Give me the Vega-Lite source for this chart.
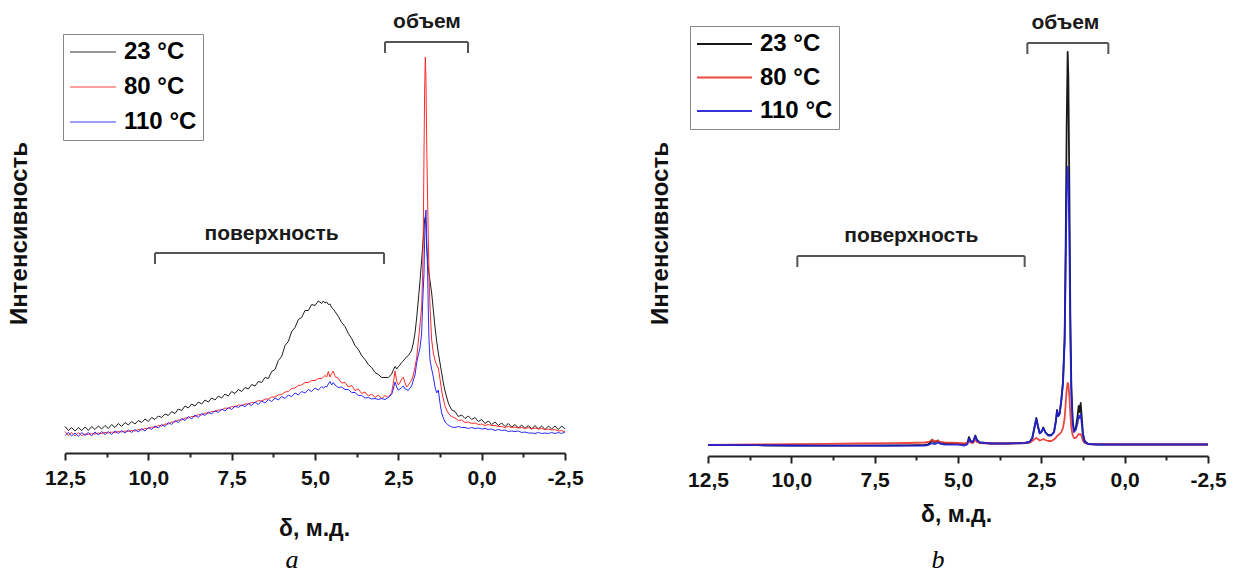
{
  "$schema": "https://vega.github.io/schema/vega-lite/v6.json",
  "background": "white",
  "padding": {"left": 7, "top": 8, "right": 0, "bottom": 0},
  "bounds": "flush",
  "spacing": 143,
  "config": {
    "view": {"stroke": null},
    "font": "Liberation Sans",
    "axis": {"labelFont": "Liberation Sans", "titleFont": "Liberation Sans"},
    "legend": {"labelFont": "Liberation Sans"}
  },
  "datasets": {
    "spectraA": [
      {"ppm": 12.5, "t23": 26.5, "t80": 21.5, "t110": 17.5},
      {"ppm": 12.4, "t23": 22.5, "t80": 17.5, "t110": 20.5},
      {"ppm": 12.3, "t23": 25.5, "t80": 20.5, "t110": 17},
      {"ppm": 12.2, "t23": 22, "t80": 17, "t110": 20},
      {"ppm": 12.1, "t23": 25.5, "t80": 20.5, "t110": 16.5},
      {"ppm": 12.0, "t23": 22.5, "t80": 17.5, "t110": 20.5},
      {"ppm": 11.9, "t23": 26, "t80": 19, "t110": 17.5},
      {"ppm": 11.8, "t23": 22.5, "t80": 18.5, "t110": 20.5},
      {"ppm": 11.7, "t23": 26.5, "t80": 19.5, "t110": 17},
      {"ppm": 11.6, "t23": 23.5, "t80": 19, "t110": 21},
      {"ppm": 11.5, "t23": 27, "t80": 20, "t110": 18},
      {"ppm": 11.4, "t23": 24, "t80": 19.5, "t110": 21.5},
      {"ppm": 11.3, "t23": 27.5, "t80": 20.5, "t110": 18.5},
      {"ppm": 11.2, "t23": 24.5, "t80": 20, "t110": 21.5},
      {"ppm": 11.1, "t23": 28.5, "t80": 21, "t110": 18.5},
      {"ppm": 11.0, "t23": 25.5, "t80": 20.5, "t110": 22},
      {"ppm": 10.9, "t23": 29.5, "t80": 21.5, "t110": 19.5},
      {"ppm": 10.8, "t23": 26.5, "t80": 21, "t110": 22.5},
      {"ppm": 10.7, "t23": 30.5, "t80": 22, "t110": 20},
      {"ppm": 10.6, "t23": 28, "t80": 21.5, "t110": 23},
      {"ppm": 10.5, "t23": 31.5, "t80": 22.5, "t110": 20.5},
      {"ppm": 10.4, "t23": 29, "t80": 22, "t110": 23.5},
      {"ppm": 10.3, "t23": 32.5, "t80": 23.5, "t110": 21},
      {"ppm": 10.2, "t23": 30.5, "t80": 23, "t110": 24.5},
      {"ppm": 10.1, "t23": 34, "t80": 24.5, "t110": 22},
      {"ppm": 10.0, "t23": 31.5, "t80": 24.5, "t110": 25.5},
      {"ppm": 9.9, "t23": 35.5, "t80": 26, "t110": 23.5},
      {"ppm": 9.8, "t23": 33.5, "t80": 25.5, "t110": 27},
      {"ppm": 9.7, "t23": 37, "t80": 27.5, "t110": 25},
      {"ppm": 9.6, "t23": 35.5, "t80": 27, "t110": 28.5},
      {"ppm": 9.5, "t23": 39, "t80": 29, "t110": 26.5},
      {"ppm": 9.4, "t23": 37.5, "t80": 29, "t110": 30.5},
      {"ppm": 9.3, "t23": 41.5, "t80": 31, "t110": 28.5},
      {"ppm": 9.2, "t23": 39.5, "t80": 31, "t110": 32.5},
      {"ppm": 9.1, "t23": 44, "t80": 33, "t110": 30.5},
      {"ppm": 9.0, "t23": 42.5, "t80": 33, "t110": 34.5},
      {"ppm": 8.9, "t23": 47, "t80": 35, "t110": 32.5},
      {"ppm": 8.8, "t23": 45, "t80": 35, "t110": 36.5},
      {"ppm": 8.7, "t23": 49, "t80": 36.5, "t110": 34},
      {"ppm": 8.6, "t23": 47, "t80": 36.5, "t110": 38},
      {"ppm": 8.5, "t23": 51, "t80": 38.5, "t110": 35.5},
      {"ppm": 8.4, "t23": 49, "t80": 38, "t110": 39.5},
      {"ppm": 8.3, "t23": 53, "t80": 40, "t110": 37.5},
      {"ppm": 8.2, "t23": 51, "t80": 39.5, "t110": 41},
      {"ppm": 8.1, "t23": 55, "t80": 41.5, "t110": 39},
      {"ppm": 8.0, "t23": 53, "t80": 41.5, "t110": 42.5},
      {"ppm": 7.9, "t23": 57, "t80": 43, "t110": 40.5},
      {"ppm": 7.8, "t23": 55, "t80": 43, "t110": 44},
      {"ppm": 7.7, "t23": 59, "t80": 45, "t110": 42},
      {"ppm": 7.6, "t23": 57, "t80": 44.5, "t110": 45.5},
      {"ppm": 7.5, "t23": 61.5, "t80": 46.5, "t110": 43.5},
      {"ppm": 7.4, "t23": 59.5, "t80": 46, "t110": 47},
      {"ppm": 7.3, "t23": 63.5, "t80": 48, "t110": 45.5},
      {"ppm": 7.2, "t23": 61.5, "t80": 47.5, "t110": 48},
      {"ppm": 7.1, "t23": 65.5, "t80": 49, "t110": 46.5},
      {"ppm": 7.0, "t23": 64, "t80": 49, "t110": 49.5},
      {"ppm": 6.9, "t23": 68.5, "t80": 50.5, "t110": 47.5},
      {"ppm": 6.8, "t23": 67, "t80": 50.5, "t110": 51},
      {"ppm": 6.7, "t23": 71.5, "t80": 52.5, "t110": 48.5},
      {"ppm": 6.6, "t23": 70.5, "t80": 52, "t110": 52},
      {"ppm": 6.5, "t23": 75.5, "t80": 54, "t110": 50},
      {"ppm": 6.4, "t23": 74.5, "t80": 54, "t110": 53.5},
      {"ppm": 6.3, "t23": 81.5, "t80": 56, "t110": 51.5},
      {"ppm": 6.2, "t23": 83.5, "t80": 56, "t110": 55},
      {"ppm": 6.1, "t23": 92.5, "t80": 58, "t110": 53},
      {"ppm": 6.0, "t23": 96.5, "t80": 58.5, "t110": 56.5},
      {"ppm": 5.9, "t23": 107.5, "t80": 61, "t110": 54.5},
      {"ppm": 5.8, "t23": 111.5, "t80": 61.5, "t110": 58},
      {"ppm": 5.7, "t23": 121.5, "t80": 64.5, "t110": 56.5},
      {"ppm": 5.6, "t23": 125.5, "t80": 65, "t110": 60},
      {"ppm": 5.5, "t23": 133.5, "t80": 67.5, "t110": 58},
      {"ppm": 5.4, "t23": 135.5, "t80": 68, "t110": 61.5},
      {"ppm": 5.3, "t23": 142.5, "t80": 70.5, "t110": 60},
      {"ppm": 5.2, "t23": 142.5, "t80": 70.5, "t110": 63.5},
      {"ppm": 5.1, "t23": 148.5, "t80": 72.5, "t110": 61.5},
      {"ppm": 5.0, "t23": 147.5, "t80": 72.5, "t110": 65},
      {"ppm": 4.9, "t23": 152, "t80": 74.5, "t110": 63},
      {"ppm": 4.8, "t23": 149.5, "t80": 74.5, "t110": 66.5},
      {"ppm": 4.75, "t23": 152, "t80": 76, "t110": 65},
      {"ppm": 4.7, "t23": 150, "t80": 77.5, "t110": 66.5},
      {"ppm": 4.65, "t23": 151, "t80": 76, "t110": 66},
      {"ppm": 4.6, "t23": 148.5, "t80": 81.5, "t110": 69},
      {"ppm": 4.55, "t23": 149, "t80": 76, "t110": 71.5},
      {"ppm": 4.5, "t23": 145.5, "t80": 79.5, "t110": 68},
      {"ppm": 4.45, "t23": 144, "t80": 82, "t110": 70.5},
      {"ppm": 4.4, "t23": 141.5, "t80": 76.5, "t110": 68},
      {"ppm": 4.3, "t23": 136.5, "t80": 74.5, "t110": 65.5},
      {"ppm": 4.2, "t23": 130.5, "t80": 70, "t110": 66},
      {"ppm": 4.1, "t23": 126.5, "t80": 70.5, "t110": 63.5},
      {"ppm": 4.0, "t23": 119.5, "t80": 66, "t110": 63.5},
      {"ppm": 3.9, "t23": 114.5, "t80": 67.5, "t110": 60.5},
      {"ppm": 3.8, "t23": 107.5, "t80": 62.5, "t110": 60.5},
      {"ppm": 3.7, "t23": 103.5, "t80": 64, "t110": 57.5},
      {"ppm": 3.6, "t23": 97.5, "t80": 59.5, "t110": 57.5},
      {"ppm": 3.5, "t23": 93.5, "t80": 61, "t110": 55},
      {"ppm": 3.4, "t23": 88.5, "t80": 57, "t110": 55.5},
      {"ppm": 3.3, "t23": 85.5, "t80": 59, "t110": 54},
      {"ppm": 3.2, "t23": 80.5, "t80": 55.5, "t110": 54.5},
      {"ppm": 3.1, "t23": 78.5, "t80": 58, "t110": 53.5},
      {"ppm": 3.0, "t23": 75.5, "t80": 54.5, "t110": 54.5},
      {"ppm": 2.9, "t23": 75.5, "t80": 57.5, "t110": 53.5},
      {"ppm": 2.8, "t23": 75.5, "t80": 55.5, "t110": 55.5},
      {"ppm": 2.7, "t23": 79, "t80": 60.5, "t110": 58.5},
      {"ppm": 2.65, "t23": 83, "t80": 70, "t110": 64},
      {"ppm": 2.6, "t23": 86.5, "t80": 82, "t110": 71},
      {"ppm": 2.55, "t23": 84, "t80": 72, "t110": 66},
      {"ppm": 2.5, "t23": 86.5, "t80": 68, "t110": 63},
      {"ppm": 2.45, "t23": 88, "t80": 70.5, "t110": 64},
      {"ppm": 2.4, "t23": 90.5, "t80": 74, "t110": 65.5},
      {"ppm": 2.35, "t23": 92, "t80": 76, "t110": 67},
      {"ppm": 2.3, "t23": 94.5, "t80": 70, "t110": 64},
      {"ppm": 2.25, "t23": 96, "t80": 66, "t110": 63.5},
      {"ppm": 2.2, "t23": 97.5, "t80": 68, "t110": 62.5},
      {"ppm": 2.15, "t23": 100, "t80": 70.5, "t110": 65},
      {"ppm": 2.1, "t23": 103, "t80": 73, "t110": 67},
      {"ppm": 2.05, "t23": 110, "t80": 78, "t110": 73},
      {"ppm": 2.0, "t23": 120, "t80": 86, "t110": 78},
      {"ppm": 1.95, "t23": 135, "t80": 95, "t110": 90},
      {"ppm": 1.9, "t23": 153, "t80": 112, "t110": 98},
      {"ppm": 1.85, "t23": 172, "t80": 128, "t110": 105},
      {"ppm": 1.8, "t23": 193, "t80": 146, "t110": 120},
      {"ppm": 1.77, "t23": 207, "t80": 180, "t110": 150},
      {"ppm": 1.75, "t23": 215, "t80": 226, "t110": 165},
      {"ppm": 1.73, "t23": 226, "t80": 300, "t110": 180},
      {"ppm": 1.71, "t23": 233, "t80": 365, "t110": 215},
      {"ppm": 1.69, "t23": 236, "t80": 396, "t110": 238},
      {"ppm": 1.67, "t23": 228, "t80": 370, "t110": 243},
      {"ppm": 1.65, "t23": 205, "t80": 313, "t110": 215},
      {"ppm": 1.62, "t23": 192, "t80": 250, "t110": 180},
      {"ppm": 1.6, "t23": 186, "t80": 213, "t110": 140},
      {"ppm": 1.58, "t23": 180, "t80": 180, "t110": 113},
      {"ppm": 1.55, "t23": 172, "t80": 146, "t110": 93},
      {"ppm": 1.5, "t23": 160, "t80": 113, "t110": 84},
      {"ppm": 1.45, "t23": 143, "t80": 100, "t110": 76},
      {"ppm": 1.4, "t23": 126, "t80": 93, "t110": 66},
      {"ppm": 1.35, "t23": 112, "t80": 88, "t110": 60},
      {"ppm": 1.3, "t23": 100, "t80": 85, "t110": 63},
      {"ppm": 1.25, "t23": 90, "t80": 74, "t110": 50},
      {"ppm": 1.2, "t23": 80, "t80": 62, "t110": 40},
      {"ppm": 1.15, "t23": 70, "t80": 54, "t110": 35},
      {"ppm": 1.1, "t23": 62, "t80": 47, "t110": 31},
      {"ppm": 1.05, "t23": 56, "t80": 43, "t110": 29.5},
      {"ppm": 1.0, "t23": 50, "t80": 40, "t110": 28},
      {"ppm": 0.95, "t23": 46.5, "t80": 37.5, "t110": 27},
      {"ppm": 0.9, "t23": 43, "t80": 36.5, "t110": 26},
      {"ppm": 0.8, "t23": 41.5, "t80": 35, "t110": 25.5},
      {"ppm": 0.7, "t23": 36.5, "t80": 32.5, "t110": 26.5},
      {"ppm": 0.6, "t23": 38, "t80": 33, "t110": 25.5},
      {"ppm": 0.5, "t23": 34.5, "t80": 30.5, "t110": 25.5},
      {"ppm": 0.4, "t23": 37, "t80": 31, "t110": 24.5},
      {"ppm": 0.3, "t23": 33.5, "t80": 29.5, "t110": 25.5},
      {"ppm": 0.2, "t23": 35.5, "t80": 30, "t110": 24.5},
      {"ppm": 0.1, "t23": 31.5, "t80": 28.5, "t110": 25},
      {"ppm": 0.0, "t23": 33.5, "t80": 29, "t110": 24},
      {"ppm": -0.1, "t23": 29.5, "t80": 27.5, "t110": 24.5},
      {"ppm": -0.2, "t23": 32, "t80": 28.5, "t110": 23.5},
      {"ppm": -0.3, "t23": 28.5, "t80": 27.5, "t110": 24},
      {"ppm": -0.4, "t23": 31, "t80": 27.5, "t110": 22.5},
      {"ppm": -0.5, "t23": 27.5, "t80": 26.5, "t110": 23.5},
      {"ppm": -0.6, "t23": 30, "t80": 26.5, "t110": 22.5},
      {"ppm": -0.7, "t23": 26.5, "t80": 25.5, "t110": 23},
      {"ppm": -0.8, "t23": 29.5, "t80": 26.5, "t110": 21.5},
      {"ppm": -0.9, "t23": 26, "t80": 25.5, "t110": 22},
      {"ppm": -1.0, "t23": 28.5, "t80": 26, "t110": 21.5},
      {"ppm": -1.1, "t23": 25, "t80": 25, "t110": 22},
      {"ppm": -1.2, "t23": 28, "t80": 25.5, "t110": 20.5},
      {"ppm": -1.3, "t23": 24.5, "t80": 24.5, "t110": 21},
      {"ppm": -1.4, "t23": 27.5, "t80": 25.5, "t110": 20},
      {"ppm": -1.5, "t23": 24, "t80": 24, "t110": 20},
      {"ppm": -1.6, "t23": 27.5, "t80": 25, "t110": 19.5},
      {"ppm": -1.7, "t23": 24, "t80": 24, "t110": 20.5},
      {"ppm": -1.8, "t23": 27, "t80": 24.5, "t110": 19.5},
      {"ppm": -1.9, "t23": 23.5, "t80": 23.5, "t110": 20},
      {"ppm": -2.0, "t23": 27, "t80": 24, "t110": 19.5},
      {"ppm": -2.1, "t23": 24, "t80": 23, "t110": 20.5},
      {"ppm": -2.2, "t23": 27, "t80": 23.5, "t110": 19.5},
      {"ppm": -2.3, "t23": 23.5, "t80": 22, "t110": 20.5},
      {"ppm": -2.4, "t23": 27, "t80": 22.5, "t110": 19.5},
      {"ppm": -2.5, "t23": 24, "t80": 21, "t110": 21}
    ],
    "spectraB": [
      {"ppm": 12.5, "t23": 11, "t80": 11, "t110": 11},
      {"ppm": 11.0, "t23": 10.8, "t80": 11.5, "t110": 10.8},
      {"ppm": 10.0, "t23": 10.5, "t80": 11.8, "t110": 10.5},
      {"ppm": 9.0, "t23": 10.3, "t80": 12.2, "t110": 10.3},
      {"ppm": 8.0, "t23": 10.3, "t80": 12.5, "t110": 10.3},
      {"ppm": 7.0, "t23": 10.5, "t80": 12.8, "t110": 10.3},
      {"ppm": 6.5, "t23": 10.6, "t80": 13, "t110": 10.3},
      {"ppm": 6.0, "t23": 11, "t80": 13.5, "t110": 10.5},
      {"ppm": 5.9, "t23": 11.5, "t80": 14, "t110": 11},
      {"ppm": 5.82, "t23": 14, "t80": 15, "t110": 12},
      {"ppm": 5.77, "t23": 16, "t80": 16.5, "t110": 13},
      {"ppm": 5.72, "t23": 14, "t80": 14.5, "t110": 12},
      {"ppm": 5.65, "t23": 14.5, "t80": 15, "t110": 12.5},
      {"ppm": 5.6, "t23": 15.5, "t80": 15.5, "t110": 13.5},
      {"ppm": 5.55, "t23": 13.5, "t80": 14, "t110": 12.5},
      {"ppm": 5.4, "t23": 12.5, "t80": 13.5, "t110": 11.5},
      {"ppm": 5.0, "t23": 12.3, "t80": 13, "t110": 11.3},
      {"ppm": 4.8, "t23": 11.8, "t80": 12.5, "t110": 10.5},
      {"ppm": 4.72, "t23": 13, "t80": 13, "t110": 11.5},
      {"ppm": 4.67, "t23": 19, "t80": 15, "t110": 17.5},
      {"ppm": 4.62, "t23": 15, "t80": 13.5, "t110": 14.5},
      {"ppm": 4.55, "t23": 14, "t80": 13, "t110": 14},
      {"ppm": 4.48, "t23": 20.5, "t80": 16, "t110": 20},
      {"ppm": 4.43, "t23": 16, "t80": 14, "t110": 15.5},
      {"ppm": 4.35, "t23": 13.5, "t80": 13, "t110": 13.5},
      {"ppm": 4.0, "t23": 12.5, "t80": 12.5, "t110": 12.5},
      {"ppm": 3.5, "t23": 12.5, "t80": 12.5, "t110": 12.5},
      {"ppm": 3.0, "t23": 13, "t80": 12.8, "t110": 13},
      {"ppm": 2.85, "t23": 14, "t80": 13.5, "t110": 14},
      {"ppm": 2.77, "t23": 18, "t80": 15, "t110": 18},
      {"ppm": 2.7, "t23": 30, "t80": 17, "t110": 29},
      {"ppm": 2.65, "t23": 38, "t80": 18, "t110": 37},
      {"ppm": 2.6, "t23": 30, "t80": 17, "t110": 29},
      {"ppm": 2.55, "t23": 23, "t80": 15.5, "t110": 22.5},
      {"ppm": 2.5, "t23": 24, "t80": 16, "t110": 24},
      {"ppm": 2.44, "t23": 28.5, "t80": 17, "t110": 28},
      {"ppm": 2.38, "t23": 24, "t80": 16, "t110": 23.5},
      {"ppm": 2.3, "t23": 21, "t80": 15, "t110": 20.5},
      {"ppm": 2.2, "t23": 21, "t80": 15, "t110": 20.5},
      {"ppm": 2.12, "t23": 24, "t80": 16.5, "t110": 23.5},
      {"ppm": 2.06, "t23": 36, "t80": 18.5, "t110": 35},
      {"ppm": 2.03, "t23": 46, "t80": 20, "t110": 45},
      {"ppm": 1.99, "t23": 40, "t80": 21, "t110": 40},
      {"ppm": 1.95, "t23": 42, "t80": 22, "t110": 43},
      {"ppm": 1.9, "t23": 56, "t80": 24, "t110": 56},
      {"ppm": 1.85, "t23": 75, "t80": 28, "t110": 72},
      {"ppm": 1.8, "t23": 120, "t80": 38, "t110": 115},
      {"ppm": 1.77, "t23": 210, "t80": 52, "t110": 190},
      {"ppm": 1.74, "t23": 330, "t80": 66, "t110": 265},
      {"ppm": 1.71, "t23": 404, "t80": 73, "t110": 289},
      {"ppm": 1.69, "t23": 380, "t80": 72, "t110": 280},
      {"ppm": 1.66, "t23": 270, "t80": 60, "t110": 220},
      {"ppm": 1.63, "t23": 140, "t80": 42, "t110": 120},
      {"ppm": 1.6, "t23": 70, "t80": 28, "t110": 62},
      {"ppm": 1.56, "t23": 36, "t80": 21, "t110": 33},
      {"ppm": 1.52, "t23": 25, "t80": 18, "t110": 24},
      {"ppm": 1.47, "t23": 27, "t80": 18, "t110": 26},
      {"ppm": 1.42, "t23": 38, "t80": 20, "t110": 32},
      {"ppm": 1.38, "t23": 50, "t80": 22, "t110": 40},
      {"ppm": 1.35, "t23": 44, "t80": 21.5, "t110": 38},
      {"ppm": 1.32, "t23": 53, "t80": 22, "t110": 42},
      {"ppm": 1.29, "t23": 40, "t80": 19.5, "t110": 33},
      {"ppm": 1.25, "t23": 22, "t80": 15, "t110": 20},
      {"ppm": 1.2, "t23": 15, "t80": 13, "t110": 14},
      {"ppm": 1.1, "t23": 12, "t80": 12, "t110": 12},
      {"ppm": 0.8, "t23": 11.5, "t80": 11.8, "t110": 11.5},
      {"ppm": 0.0, "t23": 11.5, "t80": 11.5, "t110": 11.5},
      {"ppm": -1.0, "t23": 11.5, "t80": 11.5, "t110": 11.5},
      {"ppm": -2.5, "t23": 11.5, "t80": 11.5, "t110": 11.5}
    ],
    "regionsA": [
      {"region": "объем", "from": 2.9, "to": 0.41, "top": 411, "foot": 400, "labelAt": 1.64, "labelLevel": 431},
      {"region": "поверхность", "from": 9.8, "to": 2.93, "top": 200, "foot": 189, "labelAt": 6.3, "labelLevel": 219}
    ],
    "regionsB": [
      {"region": "объем", "from": 2.92, "to": 0.49, "top": 413, "foot": 402, "labelAt": 1.78, "labelLevel": 433},
      {"region": "поверхность", "from": 9.82, "to": 3.0, "top": 200, "foot": 189, "labelAt": 6.4, "labelLevel": 220}
    ]
  },
  "hconcat": [
    {
      "width": 500,
      "height": 445,
      "title": {"text": "a", "orient": "bottom", "anchor": "middle", "font": "Liberation Serif", "fontStyle": "italic", "fontWeight": "normal", "fontSize": 26, "color": "#000", "dx": -23, "offset": 7},
      "layer": [
        {
          "data": {"name": "spectraA"},
          "transform": [{"fold": ["t23", "t80", "t110"], "as": ["series", "intensity"]}],
          "mark": {"type": "line", "strokeWidth": 1, "strokeJoin": "round"},
          "encoding": {
            "x": {
              "field": "ppm", "type": "quantitative",
              "scale": {"domain": [-2.5, 12.5], "reverse": true, "nice": false, "zero": false},
              "axis": {
                "title": "δ, м.д.",
                "values": [12.5, 11.25, 10, 8.75, 7.5, 6.25, 5, 3.75, 2.5, 1.25, 0, -1.25, -2.5],
                "labelExpr": "abs(datum.value*2) % 5 == 0 ? replace(replace(format(datum.value, '.1f'), '.', ','), '−', '-') : ''",
                "tickSize": {"condition": {"test": "abs(datum.value*2) % 5 == 0", "value": 7}, "value": 4},
                "tickWidth": 2, "tickColor": "#222", "domainColor": "#222", "domainWidth": 2,
                "labelFontSize": 21, "labelFontWeight": "bold", "labelColor": "#111", "labelPadding": 7,
                "labelFlush": false, "labelOverlap": false, "grid": false,
                "titleFontSize": 23, "titleFontWeight": "bold", "titleColor": "#111",
                "titleX": 249, "titleY": 75, "titleAlign": "center", "titleBaseline": "middle"
              }
            },
            "y": {
              "field": "intensity", "type": "quantitative",
              "scale": {"domain": [0, 445], "nice": false, "zero": true},
              "axis": {
                "title": "Интенсивность", "domain": false, "ticks": false, "labels": false, "grid": false,
                "titleFontSize": 24, "titleFontWeight": "bold", "titleColor": "#111",
                "titleX": -46, "titleY": 225, "titleAngle": 270, "titleAlign": "center", "titleBaseline": "middle"
              }
            },
            "color": {
              "field": "series", "type": "nominal",
              "scale": {"domain": ["t23", "t80", "t110"], "range": ["#1c1c1c", "#ff2a2a", "#2a2aff"]},
              "legend": {
                "orient": "none", "legendX": -2, "legendY": 26, "title": null,
                "symbolType": "stroke", "symbolSize": 2116, "symbolStrokeWidth": 1.5, "symbolOpacity": 0.6,
                "clipHeight": 24, "rowPadding": 11, "padding": 6, "labelOffset": 7,
                "labelFontSize": 24, "labelFontWeight": "bold", "labelColor": "#000",
                "strokeColor": "#888", "fillColor": "white",
                "labelExpr": "{'t23': '23 °C', 't80': '80 °C', 't110': '110 °C'}[datum.label]"
              }
            }
          }
        },
        {
          "data": {"name": "regionsA"},
          "mark": {"type": "rule", "color": "#555", "strokeWidth": 2},
          "encoding": {
            "x": {"field": "from", "type": "quantitative"},
            "x2": {"field": "to"},
            "y": {"field": "top", "type": "quantitative"}
          }
        },
        {
          "data": {"name": "regionsA"},
          "mark": {"type": "rule", "color": "#555", "strokeWidth": 2},
          "encoding": {
            "x": {"field": "from", "type": "quantitative"},
            "y": {"field": "top", "type": "quantitative"},
            "y2": {"field": "foot"}
          }
        },
        {
          "data": {"name": "regionsA"},
          "mark": {"type": "rule", "color": "#555", "strokeWidth": 2},
          "encoding": {
            "x": {"field": "to", "type": "quantitative"},
            "y": {"field": "top", "type": "quantitative"},
            "y2": {"field": "foot"}
          }
        },
        {
          "data": {"name": "regionsA"},
          "mark": {"type": "text", "font": "Liberation Sans", "fontSize": 21, "fontWeight": "bold", "color": "#1a1a1a", "align": "center", "baseline": "middle"},
          "encoding": {
            "x": {"field": "labelAt", "type": "quantitative"},
            "y": {"field": "labelLevel", "type": "quantitative"},
            "text": {"field": "region"}
          }
        }
      ]
    },
    {
      "width": 500,
      "height": 448,
      "title": {"text": "b", "orient": "bottom", "anchor": "middle", "font": "Liberation Serif", "fontStyle": "italic", "fontWeight": "normal", "fontSize": 26, "color": "#000", "dx": -20, "offset": 21},
      "layer": [
        {
          "data": {"name": "spectraB"},
          "transform": [{"fold": ["t23", "t80", "t110"], "as": ["series", "intensity"]}],
          "mark": {"type": "line", "strokeWidth": 1.8, "strokeJoin": "round", "opacity": 0.9},
          "encoding": {
            "x": {
              "field": "ppm", "type": "quantitative",
              "scale": {"domain": [-2.5, 12.5], "reverse": true, "nice": false, "zero": false},
              "axis": {
                "title": "δ, м.д.",
                "values": [12.5, 11.25, 10, 8.75, 7.5, 6.25, 5, 3.75, 2.5, 1.25, 0, -1.25, -2.5],
                "labelExpr": "abs(datum.value*2) % 5 == 0 ? replace(replace(format(datum.value, '.1f'), '.', ','), '−', '-') : ''",
                "tickSize": {"condition": {"test": "abs(datum.value*2) % 5 == 0", "value": 7}, "value": 4},
                "tickWidth": 2, "tickColor": "#222", "domainColor": "#222", "domainWidth": 2,
                "labelFontSize": 21, "labelFontWeight": "bold", "labelColor": "#111", "labelPadding": 6,
                "labelFlush": false, "labelOverlap": false, "grid": false,
                "titleFontSize": 23, "titleFontWeight": "bold", "titleColor": "#111",
                "titleX": 248, "titleY": 58, "titleAlign": "center", "titleBaseline": "middle"
              }
            },
            "y": {
              "field": "intensity", "type": "quantitative",
              "scale": {"domain": [0, 448], "nice": false, "zero": true},
              "axis": {
                "title": "Интенсивность", "domain": false, "ticks": false, "labels": false, "grid": false,
                "titleFontSize": 24, "titleFontWeight": "bold", "titleColor": "#111",
                "titleX": -48, "titleY": 225, "titleAngle": 270, "titleAlign": "center", "titleBaseline": "middle"
              }
            },
            "color": {
              "field": "series", "type": "nominal",
              "scale": {"domain": ["t23", "t80", "t110"], "range": ["#000000", "#e8342c", "#1f1fd6"]},
              "legend": {
                "orient": "none", "legendX": -18, "legendY": 18, "title": null,
                "symbolType": "stroke", "symbolSize": 3025, "symbolStrokeWidth": 1.8,
                "clipHeight": 24, "rowPadding": 9.5, "padding": 6, "labelOffset": 7,
                "labelFontSize": 24, "labelFontWeight": "bold", "labelColor": "#000",
                "strokeColor": "#888", "fillColor": "white",
                "labelExpr": "{'t23': '23 °C', 't80': '80 °C', 't110': '110 °C'}[datum.label]"
              }
            }
          }
        },
        {
          "data": {"name": "regionsB"},
          "mark": {"type": "rule", "color": "#555", "strokeWidth": 2},
          "encoding": {
            "x": {"field": "from", "type": "quantitative"},
            "x2": {"field": "to"},
            "y": {"field": "top", "type": "quantitative"}
          }
        },
        {
          "data": {"name": "regionsB"},
          "mark": {"type": "rule", "color": "#555", "strokeWidth": 2},
          "encoding": {
            "x": {"field": "from", "type": "quantitative"},
            "y": {"field": "top", "type": "quantitative"},
            "y2": {"field": "foot"}
          }
        },
        {
          "data": {"name": "regionsB"},
          "mark": {"type": "rule", "color": "#555", "strokeWidth": 2},
          "encoding": {
            "x": {"field": "to", "type": "quantitative"},
            "y": {"field": "top", "type": "quantitative"},
            "y2": {"field": "foot"}
          }
        },
        {
          "data": {"name": "regionsB"},
          "mark": {"type": "text", "font": "Liberation Sans", "fontSize": 21, "fontWeight": "bold", "color": "#1a1a1a", "align": "center", "baseline": "middle"},
          "encoding": {
            "x": {"field": "labelAt", "type": "quantitative"},
            "y": {"field": "labelLevel", "type": "quantitative"},
            "text": {"field": "region"}
          }
        }
      ]
    }
  ],
  "resolve": {
    "scale": {"x": "independent", "y": "independent", "color": "independent"},
    "legend": {"color": "independent"},
    "axis": {"x": "independent", "y": "independent"}
  }
}
